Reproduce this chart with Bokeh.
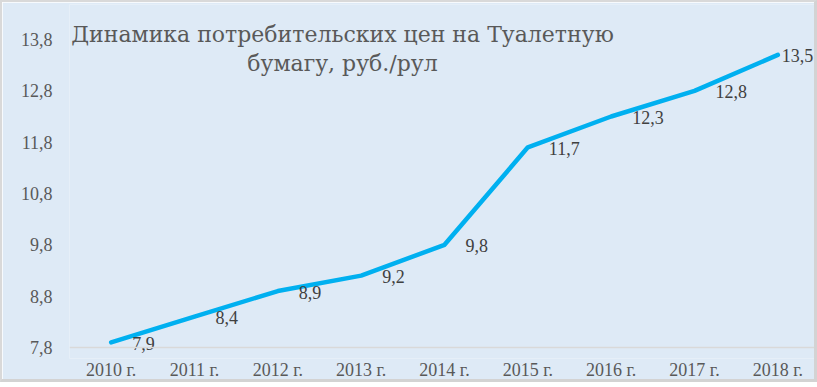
from bokeh.plotting import figure
from bokeh.models import ColumnDataSource, Label, FactorRange, Range1d, FixedTicker, CustomJSTickFormatter, Span
from bokeh.embed import file_html
from bokeh.resources import INLINE
from bokeh.core.properties import value

# ---- data ----
years = ["2010 г.", "2011 г.", "2012 г.", "2013 г.", "2014 г.",
         "2015 г.", "2016 г.", "2017 г.", "2018 г."]
prices = [7.9, 8.4, 8.9, 9.2, 9.8, 11.7, 12.3, 12.8, 13.5]
y_ticks = [7.8, 8.8, 9.8, 10.8, 11.8, 12.8, 13.8]
title_lines = ["Динамика потребительских цен на Туалетную", "бумагу, руб./рул"]

FONT = "Liberation Serif"
TITLE_FONT = "'DejaVu Serif'"
BG = "#DEEAF6"

# layout geometry (pixels)
W, H = 817, 382
AXIS_SPAN_PX = 308.0      # pixels between lowest and highest y tick
PAD_TOP_PX = 35.0         # frame extends above the top tick
PAD_BOTTOM_PX = 11.0      # frame extends below the bottom tick
units_per_px = (y_ticks[-1] - y_ticks[0]) / AXIS_SPAN_PX
y_start = y_ticks[0] - PAD_BOTTOM_PX * units_per_px
y_end = y_ticks[-1] + PAD_TOP_PX * units_per_px

labels = [("%.1f" % v).replace(".", ",") for v in prices]
# data labels sit right of each point; the last one is pulled in to stay inside the chart
label_dx = [21] * (len(prices) - 1) + [4]
src = ColumnDataSource(dict(year=years, price=prices, label=labels, dx=label_dx))

p = figure(x_range=FactorRange(*years, range_padding=0),
           y_range=Range1d(y_start, y_end),
           width=W, height=H,
           output_backend="svg", toolbar_location=None,
           min_border_left=67, min_border_right=0,
           min_border_top=2, min_border_bottom=26)
p.styles = {"border-left": "2px solid #D9D9D9", "border-top": "2px solid #D9D9D9",
            "border-right": "3px solid #D3D3D3", "border-bottom": "3px solid #D3D3D3"}
p.background_fill_color = BG
p.border_fill_color = BG
p.outline_line_color = None
p.grid.grid_line_color = None

p.yaxis.ticker = FixedTicker(ticks=y_ticks)
p.yaxis.formatter = CustomJSTickFormatter(code="return tick.toFixed(1).replace('.', ',');")
p.yaxis.axis_line_color = None
p.yaxis.major_tick_line_color = None
p.yaxis.minor_tick_line_color = None
p.yaxis.major_tick_out = 0
p.yaxis.major_tick_in = 0
p.yaxis.major_label_standoff = 17
p.yaxis.major_label_text_font = FONT
p.yaxis.major_label_text_font_size = "18px"
p.yaxis.major_label_text_color = "#595959"

p.xaxis.axis_line_color = None
p.xaxis.major_tick_line_color = None
p.xaxis.minor_tick_line_color = None
p.xaxis.major_tick_out = 0
p.xaxis.major_tick_in = 0
p.xaxis.major_label_standoff = 1
p.xaxis.major_label_text_font = FONT
p.xaxis.major_label_text_font_size = "18px"
p.xaxis.major_label_text_color = "#595959"

# category axis baseline at the lowest tick
p.add_layout(Span(location=y_ticks[0], dimension="width",
                  line_color="#D9D9D9", line_width=1.5))

p.line(x="year", y="price", source=src, line_color="#00B0F0", line_width=4.5,
       line_cap="round", line_join="round")

p.text(x="year", y="price", text="label", source=src, x_offset="dx", y_offset=1,
       text_align="left", text_baseline="middle",
       text_font=value(FONT), text_font_size="18px", text_color="#404040")

# title (frame-relative screen units)
p.add_layout(Label(x=273, y=324, x_units="screen", y_units="screen", text=title_lines[0],
                   text_align="center", text_baseline="alphabetic",
                   text_font=TITLE_FONT, text_font_size="22px", text_color="#595959"))
p.add_layout(Label(x=273, y=295, x_units="screen", y_units="screen", text=title_lines[1],
                   text_align="center", text_baseline="alphabetic",
                   text_font=TITLE_FONT, text_font_size="22px", text_color="#595959"))

open("out.html", "w").write(file_html(p, INLINE))
